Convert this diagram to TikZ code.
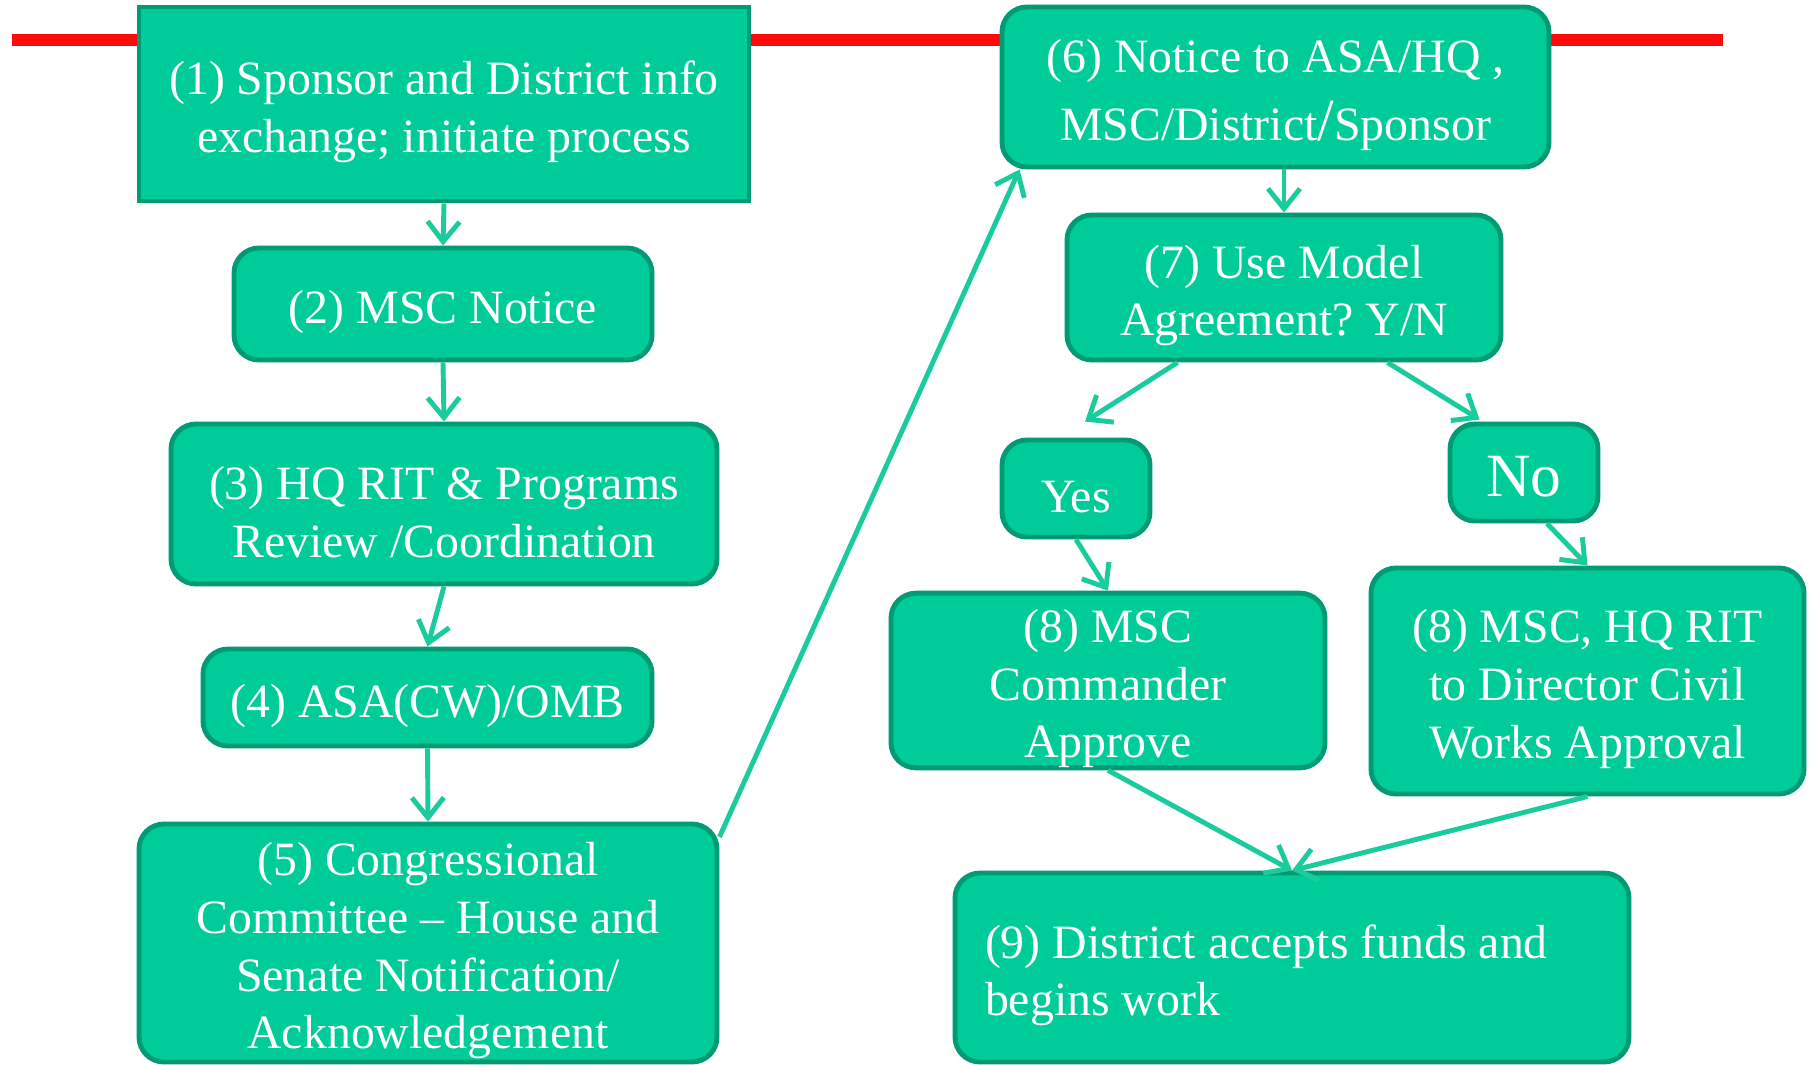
\documentclass[tikz,border=0pt]{standalone}
\usepackage{fontspec}
\setmainfont{Liberation Serif}
\frenchspacing
\usetikzlibrary{arrows.meta}
\definecolor{boxgreen}{HTML}{00CC99}
\definecolor{edgegreen}{HTML}{009A74}
\definecolor{linkgreen}{HTML}{1ACB9E}
\definecolor{barred}{HTML}{FF0A0A}

\begin{document}
\begin{tikzpicture}[
    stepbox/.style={draw=edgegreen, fill=boxgreen, line width=1.4pt, rounded corners=2.5mm,
        text=white, align=flush center, inner sep=0pt, font=\fontsize{13.6}{16.4}\selectfont,
        execute at begin node={\rule{0pt}{14pt}}},
    link/.style={draw=linkgreen, line width=1.4pt, -{Straight Barb[length=2mm,width=3.2mm]}}
]
    \useasboundingbox (0,0) rectangle (18.1,10.64);

    % Red band behind the top boxes
    \draw[barred, line width=3.4pt] (0.12,10.24) -- (17.23,10.24);

    % Left column
    \node[stepbox, sharp corners, text width=5.9cm, minimum width=6.10cm, minimum height=1.94cm] (n1) at (4.44,9.60)
        {(1) Sponsor and District info\\exchange; initiate process};
    \node[stepbox, minimum width=4.18cm, minimum height=1.12cm] (n2) at (4.43,7.60)
        {(2) MSC Notice};
    \node[stepbox, text width=5.3cm, minimum width=5.46cm, minimum height=1.60cm] (n3) at (4.44,5.60)
        {(3) HQ RIT \& Programs\\Review /Coordination};
    \node[stepbox, minimum width=4.49cm, minimum height=0.97cm] (n4) at (4.275,3.665)
        {(4) ASA(CW)/OMB};
    \node[stepbox, text width=5.6cm, minimum width=5.78cm, minimum height=2.38cm] (n5) at (4.28,1.21)
        {(5) Congressional\\Committee -- House and\\Senate Notification/\\Acknowledgement};

    % Right side
    \node[stepbox, text width=5.3cm, minimum width=5.47cm, minimum height=1.60cm] (n6) at (12.755,9.77)
        {(6) Notice to ASA/HQ ,\\[1.1mm]MSC/District{\fontsize{17}{20}\selectfont/}Sponsor};
    \node[stepbox, text width=4.2cm, minimum width=4.34cm, minimum height=1.45cm] (n7) at (12.84,7.765)
        {(7) Use Model\\Agreement? Y/N};
    \node[stepbox, minimum width=1.48cm, minimum height=0.97cm] (yes) at (10.76,5.755)
        {Yes};
    \node[stepbox, minimum width=1.48cm, minimum height=0.97cm,
        font=\fontsize{17.5}{20}\selectfont] (no) at (15.24,5.915) {No};
    \node[stepbox, text width=4.2cm, minimum width=4.34cm, minimum height=1.63cm] (n8a) at (11.08,3.835)
        {(8) MSC\\Commander\\Approve};
    \node[stepbox, text width=4.2cm, minimum width=4.33cm, minimum height=2.26cm] (n8b) at (15.875,3.83)
        {(8) MSC, HQ RIT\\to Director Civil\\Works Approval};
    \node[stepbox, align=flush left, text width=6.14cm, inner xsep=0.3cm, minimum height=1.89cm] (n9) at (12.92,0.965)
        {(9) District accepts funds and\\begins work};

    % Connectors
    \draw[link] (n1.south) -- (n2.north);
    \draw[link] (n2.south) -- (n3.north);
    \draw[link] (n3.south) -- (n4.north);
    \draw[link] (n4.south) -- (n5.north);
    \draw[link] (n5.20) -- ([xshift=2mm]n6.south west);
    \draw[link] (n7.north |- n6.south) -- (n7.north);
    \draw[link] ([xshift=11.3mm]n7.south west) -- ([xshift=0.9mm,yshift=1.6mm]yes.north);
    \draw[link] ([xshift=-11.6mm]n7.south east) -- ([xshift=3.2mm,yshift=0.2mm]no.north west);
    \draw[link] (yes.south) -- (n8a.north);
    \draw[link] ([xshift=2.3mm]no.south) -- (n8b.north);
    \draw[link] (n8a.south) -- (n9.north);
    \draw[link] (n8b.south) -- (n9.north);
\end{tikzpicture}
\end{document}
